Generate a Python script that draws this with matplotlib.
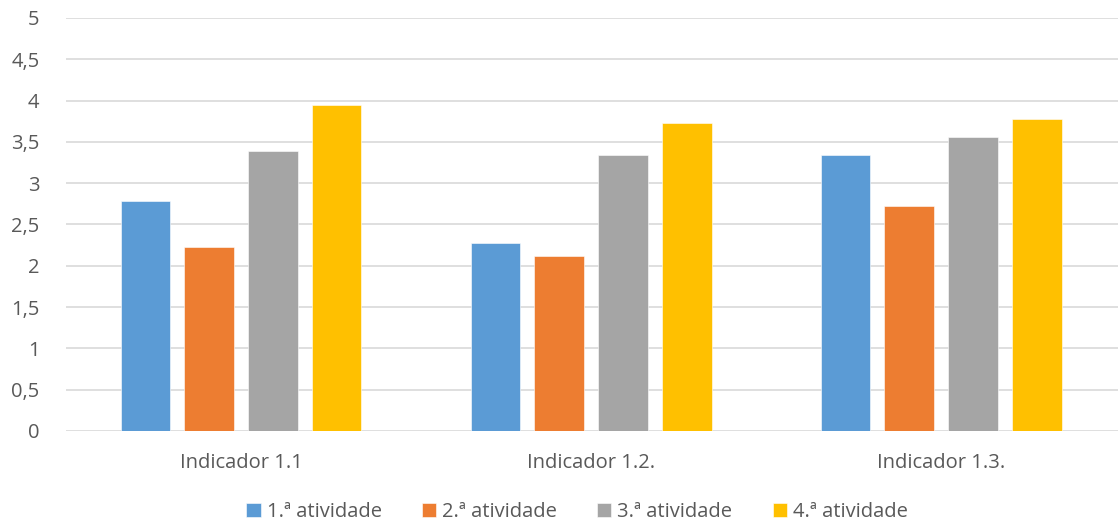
import matplotlib.pyplot as plt
import numpy as np

plt.rcParams.update({"font.family": ["Open Sans", "DejaVu Sans"]})

categories = ["Indicador 1.1", "Indicador 1.2.", "Indicador 1.3."]
series = ["1.ª atividade", "2.ª atividade", "3.ª atividade", "4.ª atividade"]
act1 = [2.78, 2.28, 3.34]
act2 = [2.23, 2.12, 2.73]
act3 = [3.39, 3.34, 3.56]
act4 = [3.95, 3.73, 3.78]
yticks = [0, 0.5, 1, 1.5, 2, 2.5, 3, 3.5, 4, 4.5, 5]

colors = ["#5B9BD5", "#ED7D31", "#A5A5A5", "#FFC000"]
txt = "#595959"

fig = plt.figure(figsize=(11.18, 5.27), dpi=100)
ax = fig.add_axes([66 / 1118, 1 - 431 / 527, 1052 / 1118, 413 / 527])

x = np.arange(len(categories))
bw = 0.142
step = 0.182
for i, (vals, lab) in enumerate(zip([act1, act2, act3, act4], series)):
    ax.bar(x + (i - 1.5) * step, vals, width=bw, color=colors[i], label=lab,
           zorder=3, edgecolor="white", linewidth=0.4)

ax.set_xlim(-0.5, 2.5 + 0.005)
ax.set_ylim(0, 5)
ax.set_yticks(yticks)
ax.set_yticklabels([f"{t:g}".replace(".", ",") for t in yticks], color=txt, fontsize=14.5)
ax.set_xticks(x)
ax.set_xticklabels(categories, color=txt, fontsize=14.5)
ax.tick_params(length=0, pad=19)
ax.tick_params(axis="x", pad=16)
ax.grid(axis="y", color="#D9D9D9", linewidth=1.2, zorder=0)
for s in ax.spines.values():
    s.set_visible(False)

leg = fig.legend(loc="lower center", bbox_to_anchor=(577 / 1118, -0.025), ncol=4,
                 frameon=False, fontsize=14.5, handlelength=0.7, handleheight=0.7,
                 handletextpad=0.3, columnspacing=2.0)
for t in leg.get_texts():
    t.set_color(txt)

fig.savefig("out.png", dpi=100)
